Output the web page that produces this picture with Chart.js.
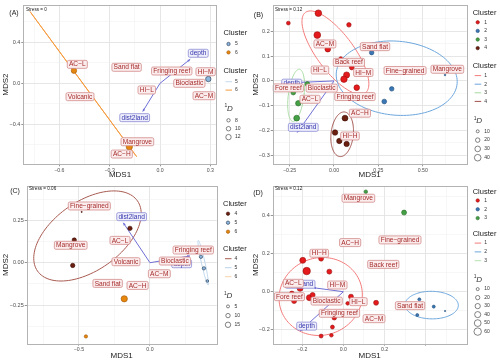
<!DOCTYPE html>
<html>
<head>
<meta charset="utf-8">
<script src="https://cdn.jsdelivr.net/npm/chart.js@4.4.0/dist/chart.umd.min.js"></script>
<style>
  body { margin: 0; background: #fff; }
  #wrap { position: relative; width: 500px; height: 362px; }
  canvas { position: absolute; }
</style>
</head>
<body>
<div id="wrap">
  <canvas id="cA" width="250" height="181" style="left:0;top:0"></canvas>
  <canvas id="cB" width="250" height="181" style="left:250px;top:0"></canvas>
  <canvas id="cC" width="250" height="181" style="left:0;top:181px"></canvas>
  <canvas id="cD" width="250" height="181" style="left:250px;top:181px"></canvas>
</div>
<script>
// ---------- panel A ----------
const aX = [0.288, -0.513, -0.183];
const aY = [0.042, 0.123, -0.62];
const aD = [12, 12, 14];
const aCl = [5, 6, 6];
const aSiteNames = ['AC−L', 'Sand flat', 'Fringing reef', 'HI−M', 'Bioclastic', 'AC−M', 'HI−L', 'Volcanic', 'Mangrove', 'AC−H'];
const aSiteX = [-0.493, -0.199, 0.07, 0.272, 0.175, 0.262, -0.079, -0.477, -0.135, -0.228];
const aSiteY = [0.185, 0.156, 0.12, 0.113, 0.0, -0.121, -0.065, -0.13, -0.57, -0.69];
const aEnvNames = ['depth', 'dist2land'];
const aEnvX = [0.228, -0.151];
const aEnvY = [0.293, -0.335];
const aArrowX = [0.18, -0.103];
const aArrowY = [0.235, -0.275];
const aEllCl = [6];
const aEllCx = [-0.457], aEllCy = [-0.008];
const aEllUx = [-0.318], aEllUy = [0.708];
const aEllVx = [0], aEllVy = [0];
const aXTicks = [-0.6, -0.3, 0, 0.3];
const aXTickLabels = ['−0.6', '−0.3', '0.0', '0.3'];
const aXMinor = [-0.75, -0.45, -0.15, 0.15];
const aYTicks = [-0.4, 0, 0.4];
const aYTickLabels = ['−0.4', '0.0', '0.4'];
const aYMinor = [-0.6, -0.2, 0.2, 0.6];
const aClusters = [5, 6];
const aSizeBreaks = [8, 10, 12];

// ---------- panel B ----------
const bX = [-0.088, -0.257, 0.084, -0.094, -0.035, 0.038, 0.1, 0.071, 0.056, 0.128,
            0.212, 0.325, 0.283, 0.625,
            -0.229, -0.201, -0.21, -0.15,
            0.062, 0.006, 0.03, 0.071];
const bY = [0.273, 0.233, 0.226, 0.185, 0.128, 0.09, 0.054, 0.024, 0.007, -0.027,
            0.114, -0.032, -0.083, 0.024,
            -0.047, -0.09, -0.15, -0.012,
            -0.15, -0.208, -0.242, -0.254];
const bD = [40, 15, 20, 42, 30, 15, 22, 35, 38, 30,
            20, 20, 22, 4,
            22, 28, 32, 22,
            32, 28, 27, 27];
const bCl = [1, 1, 1, 1, 1, 1, 1, 1, 1, 1,
             2, 2, 2, 2,
             3, 3, 3, 3,
             4, 4, 4, 4];
const bSiteNames = ['AC−M', 'Sand flat', 'Back reef', 'HI−L', 'HI−M', 'Fine−grained', 'Mangrove', 'Fore reef', 'Bioclastic', 'Fringing reef', 'AC−L', 'AC−H', 'HI−H'];
const bSiteX = [-0.051, 0.231, 0.084, -0.079, 0.165, 0.4, 0.638, -0.257, -0.069, 0.118, -0.135, 0.146, 0.09];
const bSiteY = [0.149, 0.138, 0.075, 0.044, 0.034, 0.042, 0.047, -0.028, -0.029, -0.063, -0.074, -0.13, -0.222];
const bEnvNames = ['depth', 'dist2land'];
const bEnvX = [-0.238, -0.173];
const bEnvY = [-0.009, -0.187];
const bArrowX = [-0.295, -0.207];
const bArrowY = [-0.009, -0.208];
const bEllCl = [1, 2, 3, 4];
const bEllCx = [0.008, 0.353, -0.213, 0.046], bEllCy = [0.114, 0.011, -0.058, -0.215];
const bEllUx = [-0.169, 0.34, 0.045, 0.063], bEllUy = [0.162, -0.005, 0.005, 0];
const bEllVx = [0.083, -0.02, 0.015, 0.01], bEllVy = [0.045, 0.15, 0.105, 0.09];
const bXTicks = [-0.25, 0, 0.25, 0.5];
const bXTickLabels = ['−0.25', '0.00', '0.25', '0.50'];
const bXMinor = [-0.125, 0.125, 0.375, 0.625];
const bYTicks = [-0.3, -0.2, -0.1, 0, 0.1, 0.2];
const bYTickLabels = ['−0.3', '−0.2', '−0.1', '0.0', '0.1', '0.2'];
const bYMinor = [-0.25, -0.15, -0.05, 0.05, 0.15, 0.25];
const bClusters = [1, 2, 3, 4];
const bSizeBreaks = [10, 20, 30, 40];

// ---------- panel C ----------
const cX = [-0.533, -0.544, -0.141, -0.481, 0.359, 0.38, 0.404, -0.181, -0.451];
const cY = [0.134, -0.016, 0.203, 0.3, 0.035, -0.033, -0.108, -0.213, -0.435];
const cD = [10, 10, 10, 1, 6, 6, 4, 20, 6];
const cCl = [4, 4, 4, 4, 5, 5, 5, 6, 6];
const cSiteNames = ['Fine−grained', 'Mangrove', 'AC−L', 'Fringing reef', 'Volcanic', 'Bioclastic', 'AC−M', 'Sand flat', 'AC−H'];
const cSiteX = [-0.427, -0.558, -0.211, 0.305, -0.169, 0.176, 0.066, -0.298, -0.087];
const cSiteY = [0.335, 0.103, 0.132, 0.075, 0.006, 0.01, -0.065, -0.122, -0.134];
const cEnvNames = ['dist2land', 'depth'];
const cEnvX = [-0.129, 0.223];
const cEnvY = [0.272, -0.006];
const cArrowX = [-0.188, 0.282];
const cArrowY = [0.236, 0.04];
const cEllCl = [4, 5];
const cEllCx = [-0.44, 0.375], cEllCy = [0.158, 0.0];
const cEllUx = [0.352, -0.035], cEllUy = [0.207, 0.132];
const cEllVx = [0.139, 0.012], cEllVy = [-0.167, 0.003];
const cXTicks = [-0.5, 0];
const cXTickLabels = ['−0.5', '0.0'];
const cXMinor = [-0.75, -0.25, 0.25];
const cYTicks = [-0.25, 0, 0.25];
const cYTickLabels = ['−0.25', '0.00', '0.25'];
const cYMinor = [-0.375, -0.125, 0.125, 0.375];
const cClusters = [4, 5, 6];
const cSizeBreaks = [5, 10, 15];

// ---------- panel D ----------
const dX = [-0.197, -0.178, -0.108, -0.068, -0.25, -0.239, -0.21, -0.165, -0.149, 0.037, 0.021, 0.159, -0.044, -0.053, -0.108, -0.058,
            0.369, 0.439, 0.359, 0.494,
            0.109, 0.295];
const dY = [0.164, 0.108, 0.173, 0.105, -0.01, -0.049, 0.018, -0.031, -0.017, -0.026, -0.061, -0.058, -0.136, -0.185, -0.232, -0.228,
            -0.04, -0.078, -0.122, -0.101,
            0.523, 0.414];
const dD = [39, 60, 27, 27, 27, 27, 39, 39, 27, 27, 14, 27, 23, 17, 17, 14,
            10, 10, 10, 2,
            14, 27];
const dCl = [1, 1, 1, 1, 1, 1, 1, 1, 1, 1, 1, 1, 1, 1, 1, 1,
             2, 2, 2, 2,
             3, 3];
const dSiteNames = ['Mangrove', 'AC−H', 'Fine−grained', 'HI−H', 'Back reef', 'AC−L', 'HI−M', 'Fore reef', 'Bioclastic', 'HI−L', 'Sand flat', 'Fringing reef', 'AC−M'];
const dSiteX = [0.073, 0.033, 0.275, -0.117, 0.194, -0.243, -0.029, -0.262, -0.081, 0.073, 0.324, -0.019, 0.149];
const dSiteY = [0.489, 0.257, 0.271, 0.201, 0.143, 0.044, 0.035, -0.026, -0.049, -0.052, -0.073, -0.113, -0.141];
const dEnvNames = ['dist2land', 'depth'];
const dEnvX = [-0.21, -0.178];
const dEnvY = [0.039, -0.18];
const dArrowX = [-0.146, -0.21];
const dArrowY = [0.021, -0.206];
const dEllCl = [1, 2];
const dEllCx = [-0.11, 0.429], dEllCy = [-0.025, -0.07];
const dEllUx = [0.2, 0.129], dEllUy = [0.04, 0.004];
const dEllVx = [-0.03, -0.01], dEllVy = [0.2, 0.072];
const dXTicks = [-0.2, 0, 0.2, 0.4];
const dXTickLabels = ['−0.2', '0.0', '0.2', ''];
const dXMinor = [-0.3, -0.1, 0.1, 0.3, 0.5];
const dYTicks = [-0.2, 0, 0.2, 0.4];
const dYTickLabels = ['−0.2', '0.0', '0.2', '0.4'];
const dYMinor = [-0.1, 0.1, 0.3, 0.5];
const dClusters = [1, 2, 3];
const dSizeBreaks = [10, 20, 30, 40, 50, 60];

// ---------- styles ----------
const FONT = '"Liberation Sans", Arial, sans-serif';
const pointFill = { 1: '#E41A1C', 2: '#3A78B5', 3: '#44A044', 4: '#6B1F10', 5: '#8DB6DE', 6: '#E8870E' };
const pointEdge = { 1: '#9b1010', 2: '#234e78', 3: '#2a6a2a', 4: '#3a0d05', 5: '#22364d', 6: '#9a5608' };

function near(list, v) {
  return list.findIndex(t => Math.abs(t - v) < 1e-9);
}

function drawLabel(ctx, text, px, py, env) {
  ctx.font = '6.6px ' + FONT;
  const w = ctx.measureText(text).width + 3.4;
  const h = 8;
  ctx.beginPath();
  ctx.roundRect(px - w / 2, py - h / 2, w, h, 1.5);
  ctx.fillStyle = env ? '#EFEFFB' : '#FBEDED';
  ctx.fill();
  ctx.lineWidth = 0.8;
  ctx.strokeStyle = env ? '#8C8CD6' : '#D38C8C';
  ctx.stroke();
  ctx.fillStyle = env ? '#3434AE' : '#A62B2B';
  ctx.textAlign = 'center';
  ctx.textBaseline = 'middle';
  ctx.fillText(text, px, py + 0.3);
}

function extras(p) {
  return {
    id: 'extras',
    beforeDatasetsDraw(chart) {
      const ctx = chart.ctx, xs = chart.scales.x, ys = chart.scales.y, a = chart.chartArea;
      ctx.save();
      ctx.beginPath();
      ctx.rect(a.left, a.top, a.right - a.left, a.bottom - a.top);
      ctx.clip();
      // ellipses
      for (let i = 0; i < p.ellCl.length; i++) {
        ctx.beginPath();
        for (let k = 0; k <= 120; k++) {
          const t = k / 120 * Math.PI * 2;
          const vx = p.ellCx[i] + p.ellUx[i] * Math.cos(t) + p.ellVx[i] * Math.sin(t);
          const vy = p.ellCy[i] + p.ellUy[i] * Math.cos(t) + p.ellVy[i] * Math.sin(t);
          const X = xs.getPixelForValue(vx), Y = ys.getPixelForValue(vy);
          if (k === 0) ctx.moveTo(X, Y); else ctx.lineTo(X, Y);
        }
        ctx.strokeStyle = p.lineColors[p.ellCl[i]];
        ctx.lineWidth = 1;
        ctx.stroke();
      }
      // env arrows from the origin
      const ox = xs.getPixelForValue(0), oy = ys.getPixelForValue(0);
      ctx.strokeStyle = '#6F6FD6';
      ctx.fillStyle = '#6F6FD6';
      ctx.lineWidth = 1;
      for (let i = 0; i < p.arrowX.length; i++) {
        const tx = xs.getPixelForValue(p.arrowX[i]), ty = ys.getPixelForValue(p.arrowY[i]);
        ctx.beginPath();
        ctx.moveTo(ox, oy);
        ctx.lineTo(tx, ty);
        ctx.stroke();
        const ang = Math.atan2(ty - oy, tx - ox);
        ctx.beginPath();
        ctx.moveTo(tx, ty);
        ctx.lineTo(tx - 3 * Math.cos(ang - 0.45), ty - 3 * Math.sin(ang - 0.45));
        ctx.lineTo(tx - 3 * Math.cos(ang + 0.45), ty - 3 * Math.sin(ang + 0.45));
        ctx.closePath();
        ctx.fill();
      }
      ctx.restore();
    },
    afterDatasetsDraw(chart) {
      const ctx = chart.ctx, xs = chart.scales.x, ys = chart.scales.y;
      ctx.save();
      p.envNames.forEach((n, i) => drawLabel(ctx, n, xs.getPixelForValue(p.envX[i]), ys.getPixelForValue(p.envY[i]), true));
      p.siteNames.forEach((n, i) => drawLabel(ctx, n, xs.getPixelForValue(p.siteX[i]), ys.getPixelForValue(p.siteY[i]), false));
      ctx.restore();
    },
    afterDraw(chart) {
      const ctx = chart.ctx, a = chart.chartArea;
      ctx.save();
      // panel border
      ctx.strokeStyle = '#b3b3b3';
      ctx.lineWidth = 1;
      ctx.strokeRect(Math.round(a.left) + 0.5, Math.round(a.top) + 0.5, Math.round(a.right - a.left), Math.round(a.bottom - a.top));
      // tag and stress
      ctx.fillStyle = '#1a1a1a';
      ctx.textBaseline = 'middle';
      ctx.textAlign = 'center';
      ctx.font = '7px ' + FONT;
      ctx.fillText(p.tag, p.tagX, p.tagY);
      ctx.textAlign = 'left';
      ctx.font = '4.6px ' + FONT;
      ctx.fillText(p.stress, p.stressX, p.stressY);
      // legend
      const L = p.legend;
      ctx.font = '7.5px ' + FONT;
      ctx.fillStyle = '#1a1a1a';
      ctx.fillText('Cluster', L.x, L.t1);
      ctx.fillText('Cluster', L.x, L.t2);
      ctx.font = '5px ' + FONT;
      p.clusters.forEach((c, i) => {
        const y1 = L.t1 + L.gap + i * L.step;
        ctx.beginPath();
        ctx.arc(L.x + 5, y1, 1.7, 0, Math.PI * 2);
        ctx.fillStyle = pointFill[c];
        ctx.fill();
        ctx.lineWidth = 0.6;
        ctx.strokeStyle = pointEdge[c];
        ctx.stroke();
        ctx.fillStyle = '#333';
        ctx.fillText(String(c), L.x + 11.5, y1);
        const y2 = L.t2 + L.gap + i * L.step;
        ctx.beginPath();
        ctx.moveTo(L.x + 2, y2);
        ctx.lineTo(L.x + 8.5, y2);
        ctx.strokeStyle = p.lineColors[c];
        ctx.lineWidth = 1;
        ctx.stroke();
        ctx.fillText(String(c), L.x + 11.5, y2);
      });
      ctx.font = '5px ' + FONT;
      ctx.fillText('1', L.x + 1, L.t3 - 2.5);
      ctx.font = 'italic 8px ' + FONT;
      ctx.fillText('D', L.x + 3.5, L.t3);
      ctx.font = '5px ' + FONT;
      p.sizeBreaks.forEach((s, i) => {
        const y3 = L.t3 + L.gap + 1 + i * L.step3;
        ctx.beginPath();
        ctx.arc(L.x + 5, y3, p.rad(s), 0, Math.PI * 2);
        ctx.strokeStyle = '#333';
        ctx.lineWidth = 0.6;
        ctx.stroke();
        ctx.fillStyle = '#333';
        ctx.fillText(String(s), L.x + 11.5, y3);
      });
      ctx.restore();
    }
  };
}

function makePanel(id, p) {
  const datasets = p.clusters.map(c => {
    const idx = p.cl.map((v, i) => (v === c ? i : -1)).filter(i => i >= 0);
    return {
      data: idx.map(i => ({ x: p.x[i], y: p.y[i] })),
      pointRadius: idx.map(i => p.rad(p.d[i])),
      backgroundColor: pointFill[c],
      borderColor: pointEdge[c],
      borderWidth: 0.6
    };
  });
  const axis = (ticks, labels, minor, title, size, isX) => ({
    type: 'linear',
    min: isX ? p.xMin : p.yMin,
    max: isX ? p.xMax : p.yMax,
    afterFit: s => { if (isX) s.height = size; else s.width = size; },
    afterBuildTicks: s => { s.ticks = ticks.concat(minor).sort((u, v) => u - v).map(v => ({ value: v })); },
    ticks: {
      autoSkip: false, maxRotation: 0, padding: 1,
      color: '#4d4d4d',
      font: { size: isX ? 5.2 : 5.5, family: FONT },
      callback: v => { const k = near(ticks, v); return k >= 0 ? labels[k] : ''; }
    },
    grid: {
      tickLength: 2,
      lineWidth: ctx => (near(ticks, ctx.tick.value) >= 0 ? 0.9 : 0.5),
      color: ctx => (near(ticks, ctx.tick.value) >= 0 ? '#e3e3e3' : '#eeeeee'),
      tickColor: ctx => (near(ticks, ctx.tick.value) >= 0 ? '#8a8a8a' : 'rgba(0,0,0,0)')
    },
    border: { display: false },
    title: { display: true, text: title, color: '#1a1a1a', font: { size: 8, family: FONT }, padding: 1 }
  });
  new Chart(document.getElementById(id), {
    type: 'scatter',
    data: { datasets },
    options: {
      responsive: false,
      animation: false,
      events: [],
      layout: { padding: { top: p.top, right: p.right, left: 0, bottom: 0 } },
      plugins: { legend: { display: false }, tooltip: { enabled: false } },
      scales: {
        x: axis(p.xTicks, p.xTickLabels, p.xMinor, 'MDS1', p.xh, true),
        y: axis(p.yTicks, p.yTickLabels, p.yMinor, 'MDS2', p.yw, false)
      }
    },
    plugins: [extras(p)]
  });
}

makePanel('cA', {
  x: aX, y: aY, d: aD, cl: aCl, clusters: aClusters, sizeBreaks: aSizeBreaks,
  siteNames: aSiteNames, siteX: aSiteX, siteY: aSiteY,
  envNames: aEnvNames, envX: aEnvX, envY: aEnvY, arrowX: aArrowX, arrowY: aArrowY,
  ellCl: aEllCl, ellCx: aEllCx, ellCy: aEllCy, ellUx: aEllUx, ellUy: aEllUy, ellVx: aEllVx, ellVy: aEllVy,
  xTicks: aXTicks, xTickLabels: aXTickLabels, xMinor: aXMinor,
  yTicks: aYTicks, yTickLabels: aYTickLabels, yMinor: aYMinor,
  xMin: -0.815, xMax: 0.338, yMin: -0.79, yMax: 0.764,
  yw: 23.3, xh: 16.7, top: 5, right: 33.3,
  rad: v => Math.max(0.6, -2.8 + 1.59 * Math.sqrt(v)),
  lineColors: { 5: '#C6DBEF', 6: '#F59A3C' },
  tag: '(A)', tagX: 14, tagY: 13, stress: 'Stress = 0', stressX: 26, stressY: 10,
  legend: { x: 223.5, t1: 33, t2: 70.7, t3: 108.3, gap: 11, step: 8.4, step3: 8.4 }
});

makePanel('cB', {
  x: bX, y: bY, d: bD, cl: bCl, clusters: bClusters, sizeBreaks: bSizeBreaks,
  siteNames: bSiteNames, siteX: bSiteX, siteY: bSiteY,
  envNames: bEnvNames, envX: bEnvX, envY: bEnvY, arrowX: bArrowX, arrowY: bArrowY,
  ellCl: bEllCl, ellCx: bEllCx, ellCy: bEllCy, ellUx: bEllUx, ellUy: bEllUy, ellVx: bEllVx, ellVy: bEllVy,
  xTicks: bXTicks, xTickLabels: bXTickLabels, xMinor: bXMinor,
  yTicks: bYTicks, yTickLabels: bYTickLabels, yMinor: bYMinor,
  xMin: -0.345, xMax: 0.747, yMin: -0.336, yMax: 0.306,
  yw: 22.7, xh: 16.7, top: 5, right: 33.3,
  rad: v => Math.max(0.6, -0.3 + 0.57 * Math.sqrt(v)),
  lineColors: { 1: '#F47A7A', 2: '#6CA6DC', 3: '#A6DBA0', 4: '#A0524C' },
  tag: '(B)', tagX: 8.5, tagY: 15, stress: 'Stress = 0.12', stressX: 25, stressY: 10,
  legend: { x: 222.7, t1: 12.7, t2: 66, t3: 120.7, gap: 9.6, step: 8.6, step3: 8.8 }
});

makePanel('cC', {
  x: cX, y: cY, d: cD, cl: cCl, clusters: cClusters, sizeBreaks: cSizeBreaks,
  siteNames: cSiteNames, siteX: cSiteX, siteY: cSiteY,
  envNames: cEnvNames, envX: cEnvX, envY: cEnvY, arrowX: cArrowX, arrowY: cArrowY,
  ellCl: cEllCl, ellCx: cEllCx, ellCy: cEllCy, ellUx: cEllUx, ellUy: cEllUy, ellVx: cEllVx, ellVy: cEllVy,
  xTicks: cXTicks, xTickLabels: cXTickLabels, xMinor: cXMinor,
  yTicks: cYTicks, yTickLabels: cYTickLabels, yMinor: cYMinor,
  xMin: -0.868, xMax: 0.47, yMin: -0.478, yMax: 0.453,
  yw: 26.7, xh: 18.3, top: 5, right: 33.3,
  rad: v => Math.max(0.6, -0.15 + 0.74 * Math.sqrt(v)),
  lineColors: { 4: '#A85A50', 5: '#B9D3EC', 6: '#F9D3AE' },
  tag: '(C)', tagX: 15, tagY: 10, stress: 'Stress = 0.06', stressX: 29, stressY: 7.3,
  legend: { x: 223, t1: 23.3, t2: 68.3, t3: 115, gap: 9.4, step: 9, step3: 9.2 }
});

makePanel('cD', {
  x: dX, y: dY, d: dD, cl: dCl, clusters: dClusters, sizeBreaks: dSizeBreaks,
  siteNames: dSiteNames, siteX: dSiteX, siteY: dSiteY,
  envNames: dEnvNames, envX: dEnvX, envY: dEnvY, arrowX: dArrowX, arrowY: dArrowY,
  ellCl: dEllCl, ellCx: dEllCx, ellCy: dEllCy, ellUx: dEllUx, ellUy: dEllUy, ellVx: dEllVx, ellVy: dEllVy,
  xTicks: dXTicks, xTickLabels: dXTickLabels, xMinor: dXMinor,
  yTicks: dYTicks, yTickLabels: dYTickLabels, yMinor: dYMinor,
  xMin: -0.343, xMax: 0.599, yMin: -0.272, yMax: 0.553,
  yw: 22.7, xh: 18.3, top: 5, right: 33.3,
  rad: v => Math.max(0.6, 0.48 * Math.sqrt(v)),
  lineColors: { 1: '#F47A7A', 2: '#6CA6DC', 3: '#B6E3B0' },
  tag: '(D)', tagX: 8, tagY: 12, stress: 'Stress = 0.12', stressX: 25, stressY: 7.3,
  legend: { x: 222.7, t1: 10.7, t2: 53.3, t3: 98.3, gap: 8.8, step: 8.8, step3: 8.5 }
});
</script>
</body>
</html>
